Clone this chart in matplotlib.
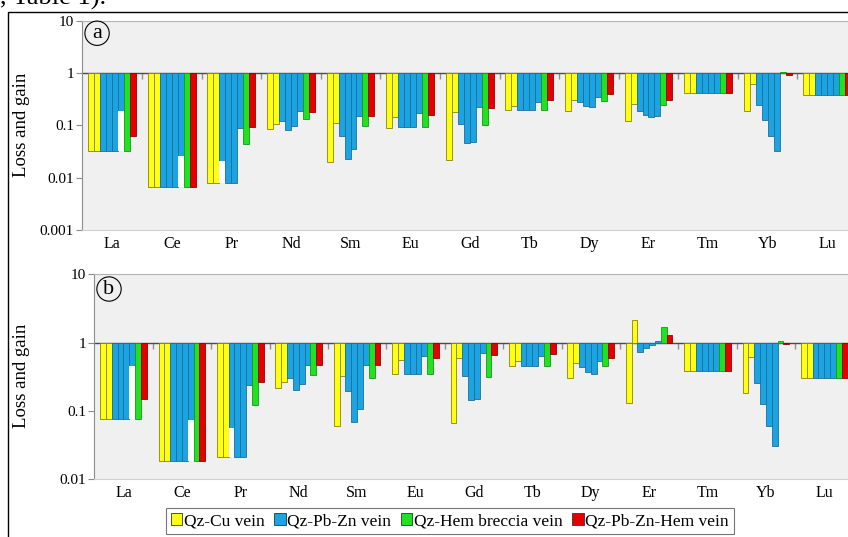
import matplotlib
matplotlib.use('Agg')
import matplotlib.pyplot as plt
import numpy as np
from matplotlib.patches import Patch, Rectangle
from matplotlib.ticker import NullLocator

plt.rcParams['font.family'] = 'serif'
plt.rcParams['font.serif'] = ['Liberation Serif', 'DejaVu Serif']

elements = ['La', 'Ce', 'Pr', 'Nd', 'Sm', 'Eu', 'Gd', 'Tb', 'Dy', 'Er', 'Tm', 'Yb', 'Lu']
legend_labels = ['Qz-Cu vein', 'Qz-Pb-Zn vein', 'Qz-Hem breccia vein', 'Qz-Pb-Zn-Hem vein']

# panel a (two Qz-Cu samples, four Qz-Pb-Zn samples, one Qz-Hem, one Qz-Pb-Zn-Hem)
cu1_a = [0.032, 0.0065, 0.0079, 0.085, 0.0196, 0.089, 0.0214, 0.199, 0.19, 0.123, 0.415, 0.185, 0.385]
cu2_a = [0.032, 0.0065, 0.0079, 0.106, 0.11, 0.144, 0.182, 0.23, 0.31, 0.26, 0.415, 0.625, 0.385]
pz1_a = [0.032, 0.0065, 0.0205, 0.119, 0.063, 0.091, 0.106, 0.199, 0.275, 0.185, 0.415, 0.248, 0.385]
pz2_a = [0.032, 0.0065, 0.0079, 0.083, 0.0227, 0.091, 0.046, 0.199, 0.237, 0.155, 0.415, 0.128, 0.385]
pz3_a = [0.032, 0.0065, 0.0079, 0.098, 0.035, 0.091, 0.049, 0.199, 0.22, 0.144, 0.415, 0.063, 0.385]
pz4_a = [0.185, 0.0255, 0.089, 0.185, 0.148, 0.172, 0.22, 0.275, 0.343, 0.148, 0.415, 0.032, 0.385]
hem_a = [0.032, 0.0065, 0.044, 0.134, 0.098, 0.091, 0.1, 0.199, 0.296, 0.248, 0.415, 1.06, 0.385]
pzh_a = [0.063, 0.0065, 0.095, 0.18, 0.148, 0.155, 0.214, 0.31, 0.40, 0.30, 0.415, 0.93, 0.385]
# (element, Qz-Pb-Zn sample, lower value) of the white parts under some blue bars
white_a = [(0, 3, 0.032), (1, 3, 0.0065), (2, 0, 0.0079)]

# panel b
cu1_b = [0.0755, 0.0187, 0.0214, 0.214, 0.060, 0.348, 0.066, 0.455, 0.30, 0.129, 0.385, 0.185, 0.30]
cu2_b = [0.0755, 0.0187, 0.0214, 0.268, 0.325, 0.557, 0.59, 0.54, 0.50, 2.15, 0.385, 0.624, 0.30]
pz1_b = [0.0755, 0.0187, 0.0557, 0.30, 0.198, 0.348, 0.329, 0.455, 0.435, 0.738, 0.385, 0.254, 0.30]
pz2_b = [0.0755, 0.0187, 0.0214, 0.203, 0.068, 0.348, 0.145, 0.455, 0.376, 0.826, 0.385, 0.126, 0.30]
pz3_b = [0.0755, 0.0187, 0.0214, 0.248, 0.106, 0.348, 0.151, 0.455, 0.344, 0.924, 0.385, 0.061, 0.30]
pz4_b = [0.46, 0.074, 0.24, 0.471, 0.47, 0.645, 0.70, 0.638, 0.54, 1.046, 0.385, 0.031, 0.30]
hem_b = [0.0755, 0.0187, 0.122, 0.336, 0.30, 0.344, 0.31, 0.455, 0.455, 1.68, 0.385, 1.06, 0.30]
pzh_b = [0.151, 0.0187, 0.268, 0.47, 0.47, 0.59, 0.66, 0.68, 0.60, 1.27, 0.385, 0.956, 0.30]
white_b = [(0, 3, 0.0755), (1, 3, 0.0187), (2, 0, 0.0214)]

YEL, BLU, GRN, RED = '#ffff14', '#1ca4e2', '#22e022', '#e50000'
EDGE = {YEL: '#8a8400', BLU: '#1b6f9c', GRN: '#139a13', RED: '#9a0000'}
BG = '#f0f0f0'


def draw_panel(ax, series, white, ylim, yticks, ylabels, letter, letter_xy):
    colors = [YEL, YEL, BLU, BLU, BLU, BLU, GRN, RED]
    x = np.arange(len(elements))
    w = 0.1
    ax.set_facecolor(BG)
    for k, (vals, c) in enumerate(zip(series, colors)):
        v = np.array(vals)
        ax.bar(x - 0.35 + k * w, v - 1, bottom=1, width=w, color=c,
               edgecolor=EDGE[c], linewidth=0.6, zorder=2)
    for el, s, lo in white:
        top = series[2 + s][el]
        ax.bar(el - 0.35 + (2 + s) * w, lo - top, bottom=top, width=w,
               color='white', linewidth=0, zorder=2)

    ax.set_yscale('log')
    ax.set_ylim(*ylim)
    ax.set_xlim(-0.5, len(elements) - 0.5)
    ax.set_yticks(yticks, ylabels)
    ax.yaxis.set_minor_locator(NullLocator())
    ax.set_xticks(x, elements)
    ax.tick_params(axis='x', length=0, pad=4, labelsize=11.5)
    ax.tick_params(axis='y', length=4, color='#8c8c8c', labelsize=11, pad=2)
    ax.spines['left'].set_color('#8c8c8c')
    ax.spines['top'].set_color('#b4b4b4')
    ax.spines['bottom'].set_color('#d0d0d0')
    ax.spines['right'].set_visible(False)

    # baseline at 1 with small ticks between the element groups
    frac = -np.log10(ylim[0]) / (np.log10(ylim[1]) - np.log10(ylim[0]))
    sec = ax.secondary_xaxis(frac)
    sec.set_alignment('bottom')
    sec.set_xticks(np.arange(0.5, len(elements) - 0.5, 1.0), labels=[])
    sec.tick_params(direction='out', length=4, color='#909090', width=1)
    sec.spines['bottom'].set_color('#4a4a4a')
    sec.spines['bottom'].set_linewidth(1.0)

    ax.text(letter_xy[0], letter_xy[1], letter, transform=ax.transAxes,
            fontsize=16, ha='center', va='center', zorder=5,
            bbox=dict(boxstyle='circle,pad=0.12', fc='none', ec='black', lw=0.8))


fig = plt.figure(figsize=(8.48, 5.37), dpi=100)

ax_a = fig.add_axes([0.0971, 0.5717, 0.9136, 0.3898])
draw_panel(ax_a, [cu1_a, cu2_a, pz1_a, pz2_a, pz3_a, pz4_a, hem_a, pzh_a], white_a,
           (0.001, 10), [0.001, 0.01, 0.1, 1, 10], ['0.001', '0.01', '0.1', '1', '10'],
           'a', (0.019, 0.94))

ax_b = fig.add_axes([0.1112, 0.1075, 0.8953, 0.3818])
draw_panel(ax_b, [cu1_b, cu2_b, pz1_b, pz2_b, pz3_b, pz4_b, hem_b, pzh_b], white_b,
           (0.01, 10), [0.01, 0.1, 1, 10], ['0.01', '0.1', '1', '10'],
           'b', (0.0194, 0.928))

fig.text(22 / 848, 1 - 125 / 537, 'Loss and gain', rotation=90, fontsize=13.5,
         ha='center', va='center')
fig.text(22 / 848, 1 - 376 / 537, 'Loss and gain', rotation=90, fontsize=13.5,
         ha='center', va='center')

# text from the surrounding page and the outer frame
fig.text(0.0, 1 - 5 / 537, ', Table 1).', fontsize=19, ha='left', va='baseline')
fig.add_artist(Rectangle((8.3 / 848, -0.5), 2.0, 1.5 - 11.7 / 537, transform=fig.transFigure,
                         fill=False, edgecolor='black', linewidth=1.0, clip_on=False))

handles = [Patch(facecolor=c, edgecolor='#333333', linewidth=0.6) for c in (YEL, BLU, GRN, RED)]
leg = fig.legend(handles, legend_labels, loc='center', bbox_to_anchor=(450 / 848, 1 - 521 / 537),
                 ncol=4, fontsize=12.5, frameon=True, fancybox=False, edgecolor='#555555',
                 handlelength=0.65, handleheight=0.65, handletextpad=0.1, columnspacing=0.55,
                 borderpad=0.3, borderaxespad=0)
leg.get_frame().set_linewidth(0.8)

fig.savefig('out.png', dpi=100)
